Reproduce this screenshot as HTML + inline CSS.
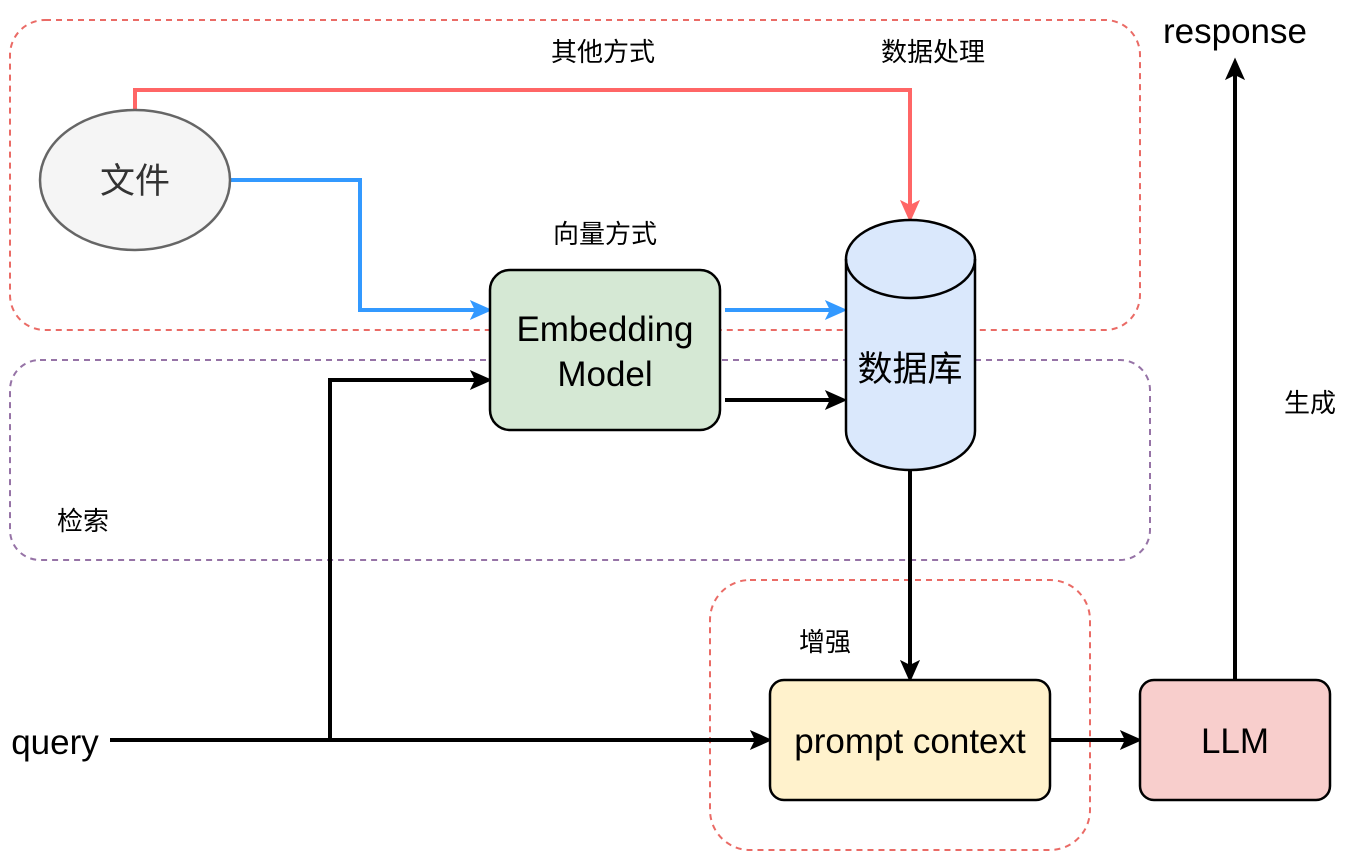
<!DOCTYPE html>
<html><head><meta charset="utf-8"><style>
body{margin:0;background:#fff}
text{font-family:"Liberation Sans","Noto Sans CJK SC",sans-serif;fill:#000}
</style></head><body>
<svg width="1370" height="852" viewBox="0 0 1370 852" xmlns="http://www.w3.org/2000/svg">
<rect x="10" y="20" width="1130" height="310" rx="35" fill="none" stroke="#ea6b66" stroke-width="2" stroke-dasharray="6,5"/>
<rect x="10" y="360" width="1140" height="200" rx="30" fill="none" stroke="#9673a6" stroke-width="2" stroke-dasharray="6,5"/>
<rect x="710" y="580" width="380" height="270" rx="40" fill="none" stroke="#ea6b66" stroke-width="2" stroke-dasharray="6,5"/>

<polyline points="135,110 135,90 910,90 910,210" fill="none" stroke="#ff6666" stroke-width="4"/>
<path d="M910,220 L902,202 L910,206 L918,202 Z" fill="#ff6666" stroke="#ff6666" stroke-width="2"/>
<polyline points="230,180 360,180 360,310 480,310" fill="none" stroke="#3399ff" stroke-width="4"/>
<path d="M490,310 L472,302 L476,310 L472,318 Z" fill="#3399ff" stroke="#3399ff" stroke-width="2"/>
<line x1="725" y1="310" x2="835" y2="310" stroke="#3399ff" stroke-width="4"/>
<path d="M845,310 L827,302 L831,310 L827,318 Z" fill="#3399ff" stroke="#3399ff" stroke-width="2"/>
<line x1="725" y1="400" x2="835" y2="400" stroke="#000" stroke-width="4"/>
<path d="M845,400 L827,392 L831,400 L827,408 Z" fill="#000" stroke="#000" stroke-width="2"/>
<line x1="110" y1="740" x2="760" y2="740" stroke="#000" stroke-width="4"/>
<path d="M770,740 L752,732 L756,740 L752,748 Z" fill="#000" stroke="#000" stroke-width="2"/>
<polyline points="330,740 330,380 480,380" fill="none" stroke="#000" stroke-width="4"/>
<path d="M490,380 L472,372 L476,380 L472,388 Z" fill="#000" stroke="#000" stroke-width="2"/>
<line x1="910" y1="470" x2="910" y2="670" stroke="#000" stroke-width="4"/>
<path d="M910,680 L902,662 L910,666 L918,662 Z" fill="#000" stroke="#000" stroke-width="2"/>
<line x1="1050" y1="740" x2="1130" y2="740" stroke="#000" stroke-width="4"/>
<path d="M1140,740 L1122,732 L1126,740 L1122,748 Z" fill="#000" stroke="#000" stroke-width="2"/>
<line x1="1235" y1="680" x2="1235" y2="70" stroke="#000" stroke-width="4"/>
<path d="M1235,60 L1227,78 L1235,74 L1243,78 Z" fill="#000" stroke="#000" stroke-width="2"/>

<ellipse cx="135" cy="180" rx="95" ry="70" fill="#f5f5f5" stroke="#666" stroke-width="2.5"/>
<text x="135" y="193" font-size="35" text-anchor="middle" style="fill:#333">文件</text>
<rect x="490" y="270" width="230" height="160" rx="20" fill="#d5e8d4" stroke="#000" stroke-width="2.5"/>
<text x="605" y="341" font-size="35" text-anchor="middle">Embedding</text>
<text x="605" y="386" font-size="35" text-anchor="middle">Model</text>
<path d="M846,259 L846,431 A64.5,39 0 0 0 975,431 L975,259 A64.5,39 0 0 0 846,259 Z" fill="#dae8fc" stroke="#000" stroke-width="2.5"/>
<path d="M846,259 A64.5,39 0 0 0 975,259" fill="none" stroke="#000" stroke-width="2.5"/>
<text x="910" y="381" font-size="35" text-anchor="middle">数据库</text>
<rect x="770" y="680" width="280" height="120" rx="14" fill="#fff2cc" stroke="#000" stroke-width="2.5"/>
<text x="910" y="753" font-size="35" text-anchor="middle">prompt context</text>
<rect x="1140" y="680" width="190" height="120" rx="14" fill="#f8cecc" stroke="#000" stroke-width="2.5"/>
<text x="1235" y="753" font-size="35" text-anchor="middle">LLM</text>

<text x="603" y="61" font-size="26" text-anchor="middle">其他方式</text>
<text x="933" y="61" font-size="26" text-anchor="middle">数据处理</text>
<text x="605" y="243" font-size="26" text-anchor="middle">向量方式</text>
<text x="83" y="530" font-size="26" text-anchor="middle">检索</text>
<text x="825" y="651" font-size="26" text-anchor="middle">增强</text>
<text x="1310" y="412" font-size="26" text-anchor="middle">生成</text>
<text x="1235" y="43" font-size="35" text-anchor="middle">response</text>
<text x="55" y="754" font-size="35" text-anchor="middle">query</text>
</svg>
</body></html>
